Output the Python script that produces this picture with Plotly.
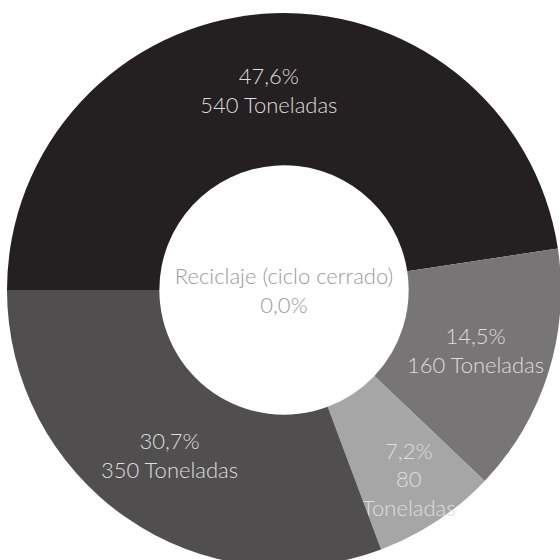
import plotly.graph_objects as go

# Waste destination shares (percent) and tonnages
categories = ["Vertedero", "Incineración", "Compostaje", "Reciclaje (ciclo abierto)"]
percentages = [47.6, 14.5, 7.2, 30.7]
tonnes = [540, 160, 80, 350]

center_label = "Reciclaje (ciclo cerrado)"
center_pct = 0.0

colors = ["#242021", "#787576", "#a7a6a6", "#504e4f"]


def fmt_pct(v):
    return f"{v:.1f}".replace(".", ",") + "%"


labels_text = []
for p, t in zip(percentages, tonnes):
    sep = "<br>" if p < 10 else " "
    labels_text.append(f"{fmt_pct(p)}<br>{t}{sep}Toneladas")

W, H = 562, 568
cx, cy, R = 284, 290, 277

fig = go.Figure(
    go.Pie(
        labels=categories,
        values=percentages,
        text=labels_text,
        textinfo="text",
        textposition="inside",
        insidetextorientation="horizontal",
        sort=False,
        direction="clockwise",
        rotation=270,
        hole=0.45,
        marker=dict(colors=colors, line=dict(width=0)),
        textfont=dict(family="Lato", size=22, color="#dedede", weight=300),
        domain=dict(x=[(cx - R) / W, (cx + R) / W], y=[(H - cy - R) / H, (H - cy + R) / H]),
        title=dict(
            text=f"{center_label}<br>{fmt_pct(center_pct)}",
            position="middle center",
            font=dict(family="Lato", size=22, color="#9a9a9a", weight=300),
        ),
        hoverinfo="skip",
    )
)

fig.update_layout(
    width=W,
    height=H,
    margin=dict(l=0, r=0, t=0, b=0),
    showlegend=False,
    paper_bgcolor="white",
    uniformtext=dict(minsize=22, mode="show"),
)

fig.write_html(
    "out.html",
    post_script="document.body.style.margin='0';document.body.style.overflow='hidden';",
)
